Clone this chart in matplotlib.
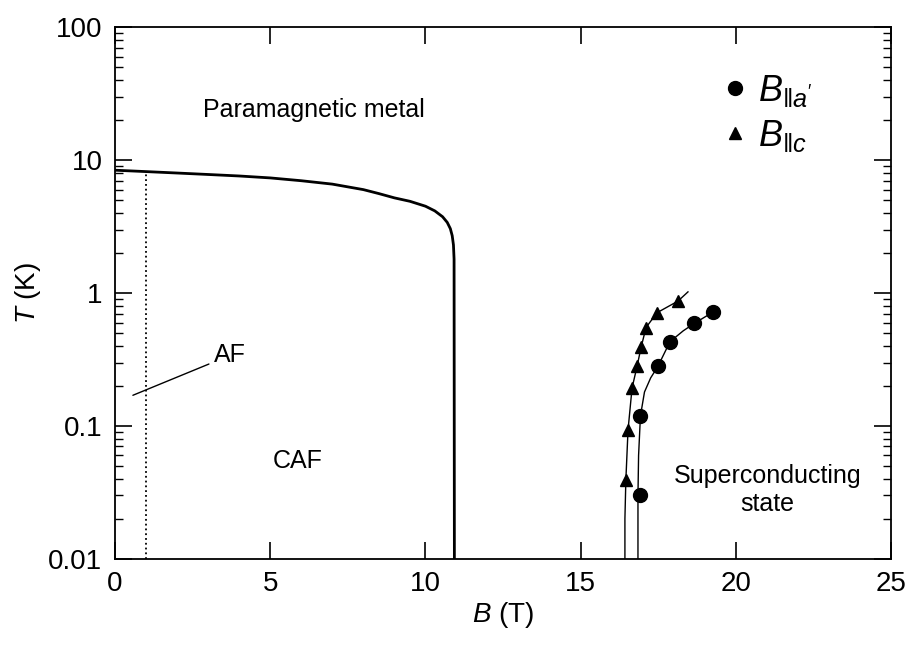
import numpy as np
import matplotlib
matplotlib.use('Agg')
from matplotlib import pyplot as plt

plt.rcParams['font.family'] = ['Liberation Sans', 'DejaVu Sans']
plt.rcParams['mathtext.fontset'] = 'custom'
plt.rcParams['mathtext.rm'] = 'Liberation Sans'
plt.rcParams['mathtext.it'] = 'Liberation Sans:italic'

# CAF / paramagnetic boundary
b_phase = [0, 1, 2, 3, 4, 5, 6, 7, 8, 8.5, 9, 9.5, 10, 10.3, 10.55, 10.7, 10.8, 10.86, 10.9, 10.92, 10.93]
t_phase = [8.4, 8.2, 8.0, 7.8, 7.6, 7.35, 7.0, 6.6, 6.0, 5.6, 5.2, 4.9, 4.5, 4.15, 3.75, 3.4, 3.05, 2.7, 2.3, 1.8, 0.01]

# AF boundary (dotted)
b_af = [1.0, 1.0]
t_af = [0.01, 8.2]

# B || a' (circles)
b_a = [16.9, 16.9, 17.48, 17.87, 18.65, 19.26]
t_a = [0.030, 0.119, 0.28, 0.43, 0.59, 0.72]
b_a_fit = [16.84, 16.84, 16.86, 16.92, 17.05, 17.25, 17.48, 17.87, 18.3, 18.65, 19.26]
t_a_fit = [0.01, 0.03, 0.06, 0.119, 0.18, 0.23, 0.28, 0.43, 0.52, 0.59, 0.72]

# B || c (triangles)
b_c = [16.45, 16.52, 16.65, 16.81, 16.94, 17.10, 17.45, 18.13]
t_c = [0.039, 0.093, 0.193, 0.28, 0.39, 0.55, 0.71, 0.87]
b_c_fit = [16.42, 16.42, 16.45, 16.52, 16.65, 16.81, 16.94, 17.10, 17.45, 18.13, 18.45]
t_c_fit = [0.01, 0.02, 0.039, 0.093, 0.193, 0.28, 0.39, 0.55, 0.71, 0.87, 1.02]

fig = plt.figure(figsize=(9.19, 6.49), dpi=100)
ax = fig.add_axes([0.125, 0.139, 0.845, 0.819])

ax.plot(b_phase, t_phase, color='black', lw=2.0)
ax.plot(b_af, t_af, color='black', lw=1.3, ls=':')

ax.plot(b_a_fit, t_a_fit, color='black', lw=1.0)
ax.plot(b_c_fit, t_c_fit, color='black', lw=1.0)
ax.plot(b_a, t_a, 'o', color='black', ms=10, ls='none', label=r"$B_{\Vert a'}$")
ax.plot(b_c, t_c, '^', color='black', ms=9, ls='none', label=r"$B_{\Vert c}$")

ax.set_yscale('log')
ax.set_xlim(0, 25)
ax.set_ylim(0.01, 100)
ax.set_xticks([0, 5, 10, 15, 20, 25])
ax.set_yticks([0.01, 0.1, 1, 10, 100])
ax.set_yticklabels(['0.01', '0.1', '1', '10', '100'])
ax.tick_params(which='both', direction='in', top=True, right=True, labelsize=20)
ax.tick_params(which='major', length=12, width=1.2)
ax.tick_params(axis='x', which='major', pad=9)
ax.tick_params(axis='y', which='major', pad=9)
ax.tick_params(which='minor', length=6, width=1.0)
ax.tick_params(axis='x', which='minor', bottom=False, top=False)
for s in ax.spines.values():
    s.set_linewidth(1.3)

ax.set_xlabel(r'$\mathit{B}$ (T)', fontsize=20, labelpad=2)
ax.set_ylabel(r'$\mathit{T}$ (K)', fontsize=20, labelpad=4)

ax.text(6.4, 24, 'Paramagnetic metal', fontsize=18, ha='center', va='center')
ax.text(5.9, 0.054, 'CAF', fontsize=18, ha='center', va='center')
ax.text(21.0, 0.033, 'Superconducting\nstate', fontsize=18, ha='center', va='center',
        linespacing=1.25)
ax.annotate('AF', xy=(0.58, 0.17), xytext=(3.2, 0.34), fontsize=18, va='center',
            arrowprops=dict(arrowstyle='-', color='black', lw=1.0, shrinkA=2, shrinkB=0))

ax.legend(loc='upper left', bbox_to_anchor=(0.747, 0.955), frameon=False, fontsize=26,
          handletextpad=0.15, labelspacing=0.25, handlelength=1.0, borderaxespad=0.2)

plt.savefig('out.png', dpi=100)
